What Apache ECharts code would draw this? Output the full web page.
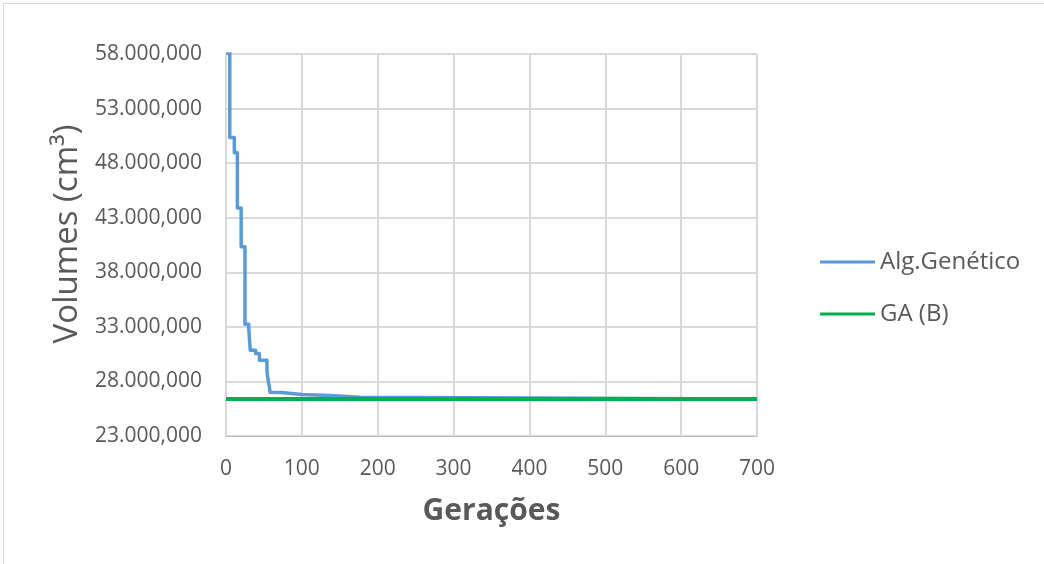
<!DOCTYPE html>
<html>
<head>
<meta charset="utf-8">
<script src="https://cdn.jsdelivr.net/npm/echarts@6/dist/echarts.min.js"></script>
<style>
  html, body { margin: 0; padding: 0; background: #fff; overflow: hidden; }
  #frame { position: absolute; left: 3px; top: 3px; width: 1100px; height: 620px;
           border: 1px solid #d9d9d9; box-sizing: border-box; }
  #chart { position: absolute; left: 0; top: 0; width: 1044px; height: 564px; }
</style>
</head>
<body>
<div id="frame"></div>
<div id="chart"></div>
<script>
// Best volume found per generation (step changes only)
const gaGenerations = [0, 5, 11, 15, 20, 25, 30, 32, 39, 44, 54, 55, 56, 57, 58, 59, 73, 100, 138, 176, 700];
const gaVolumes = [58100000, 50350000, 48950000, 43900000, 40350000, 33250000, 32850000, 30850000, 30550000,
                   29950000, 29000000, 28400000, 27900000, 27600000, 27000000, 26980000, 26800000, 26700000,
                   26550000, 26400000, 26400000];

// Reference volume GA (B)
const refGenerations = [0, 700];
const refVolumes = [26400000, 26400000];

const xTicks = { min: 0, max: 700, step: 100 };
const yTicks = { min: 23000000, max: 58000000, step: 5000000 };

const seriesNames = ['Alg.Genético', 'GA (B)'];

function pairs(xs, ys) { return xs.map((x, i) => [x, ys[i]]); }

// 58,000,000 -> "58.000,000"
function volumeLabel(v) {
  return Math.round(v).toLocaleString('en-US').replace(',', '.');
}

const chart = echarts.init(document.getElementById('chart'), null, { renderer: 'canvas' });
const textColor = '#595959';
const font = '"Open Sans", sans-serif';

chart.setOption({
  backgroundColor: 'transparent',
  animation: false,
  grid: { left: 226, right: 287, top: 54, bottom: 128, containLabel: false },
  xAxis: {
    type: 'value', min: xTicks.min, max: xTicks.max, interval: xTicks.step,
    name: 'Gerações', nameLocation: 'middle', nameGap: 60,
    nameTextStyle: { fontFamily: font, fontSize: 30, fontWeight: 'bold', color: textColor },
    axisLine: { show: true, lineStyle: { color: '#bfbfbf', width: 1 } },
    axisTick: { show: false },
    axisLabel: { fontFamily: font, fontSize: 21, color: textColor, margin: 23 },
    splitLine: { show: true, lineStyle: { color: '#d9d9d9', width: 2 } }
  },
  yAxis: {
    type: 'value', min: yTicks.min, max: yTicks.max, interval: yTicks.step,
    name: 'Volumes (cm³)', nameLocation: 'middle', nameGap: 140, nameRotate: 90,
    nameTextStyle: { fontFamily: font, fontSize: 33, color: textColor, padding: [0, 0, 0, 22] },
    axisLine: { show: false },
    axisTick: { show: false },
    axisLabel: { fontFamily: font, fontSize: 21, color: textColor, margin: 24, formatter: volumeLabel },
    splitLine: { show: true, lineStyle: { color: '#d9d9d9', width: 2 } }
  },
  legend: {
    orient: 'vertical', left: 815, top: 245,
    itemWidth: 55, itemHeight: 24, itemGap: 28,
    icon: 'path://M0,10.5 L55,10.5 L55,13.5 L0,13.5 Z',
    textStyle: { fontFamily: font, fontSize: 24, color: textColor, lineHeight: 24 },
    data: seriesNames
  },
  series: [
    {
      name: seriesNames[0], type: 'line', step: 'end', symbol: 'none',
      data: pairs(gaGenerations, gaVolumes),
      itemStyle: { color: '#5b9bd5' },
      lineStyle: { color: '#5b9bd5', width: 3.5, join: 'round' }
    },
    {
      name: seriesNames[1], type: 'line', symbol: 'none',
      data: pairs(refGenerations, refVolumes),
      itemStyle: { color: '#00b050' },
      lineStyle: { color: '#00b050', width: 4 }
    }
  ]
});
</script>
</body>
</html>
